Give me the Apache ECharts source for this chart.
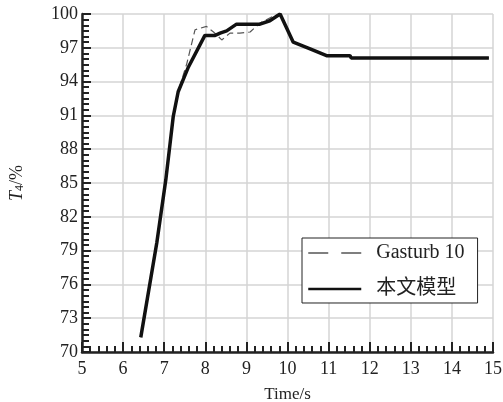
<!DOCTYPE html>
<html>
<head>
<meta charset="utf-8">
<script src="https://cdn.jsdelivr.net/npm/echarts@6/dist/echarts.min.js"></script>
<style>
  html, body { margin: 0; padding: 0; background: #fff; }
  #main { width: 503px; height: 402px; }
</style>
</head>
<body>
<div id="main"></div>
<script>
// Gasturb 10 (dashed)
const gasTime = [6.43, 6.82, 7.04, 7.22, 7.34, 7.55, 7.75, 8.03, 8.2, 8.4, 8.6, 8.84, 9.09, 9.33, 9.65, 9.82, 10.14, 10.55, 10.95, 11.52, 11.55, 14.9]
const gasT4 = [71.3, 79.7, 85.3, 90.9, 93.1, 95.6, 98.6, 98.9, 98.4, 97.7, 98.3, 98.3, 98.4, 99.2, 99.8, 100.0, 97.5, 96.9, 96.3, 96.3, 96.1, 96.1]

// 本文模型 (solid)
const modelTime = [6.43, 6.82, 7.04, 7.22, 7.34, 7.59, 7.99, 8.24, 8.36, 8.52, 8.76, 9.09, 9.33, 9.57, 9.82, 10.14, 10.55, 10.95, 11.52, 11.55, 14.9]
const modelT4 = [71.3, 79.7, 85.3, 90.9, 93.1, 95.3, 98.1, 98.1, 98.3, 98.5, 99.1, 99.1, 99.1, 99.4, 100.0, 97.5, 96.9, 96.3, 96.3, 96.1, 96.1]

const seriesNames = ['Gasturb 10', '本文模型']

const font = '"Liberation Serif", "Noto Sans CJK SC", serif'

const chart = echarts.init(document.getElementById('main'), null, { renderer: 'canvas' })

const option = {
  animation: false,
  textStyle: { fontFamily: font },
  grid: { left: 82, right: 10, top: 14, bottom: 50, outerBoundsMode: 'none' },
  legend: {
    orient: 'vertical',
    left: 302,
    top: 238,
    padding: [5, 13, 4, 5],
    itemGap: 16,
    itemWidth: 53,
    itemHeight: 20,
    borderColor: '#222',
    borderWidth: 1,
    backgroundColor: '#fff',
    itemStyle: { opacity: 0 },
    textStyle: { fontFamily: font, fontSize: 20, color: '#222', padding: [0, 0, 0, 10] },
    data: [
      { name: seriesNames[0], lineStyle: { width: 1.5, type: [20, 13], color: '#555' } },
      { name: seriesNames[1], lineStyle: { width: 2.5, color: '#111' } }
    ]
  },
  xAxis: {
    type: 'value',
    min: 5,
    max: 15,
    interval: 1,
    name: 'Time/s',
    nameLocation: 'middle',
    nameGap: 34,
    nameTextStyle: { fontFamily: font, fontSize: 17, color: '#222' },
    axisLine: { lineStyle: { color: '#222', width: 2.5 } },
    axisTick: { inside: true, length: 10, lineStyle: { color: '#222', width: 2 } },
    minorTick: { show: true, splitNumber: 5, length: 6, lineStyle: { color: '#222', width: 2 } },
    axisLabel: { fontFamily: font, fontSize: 18, color: '#222', margin: 8 },
    splitLine: { show: true, lineStyle: { color: '#d4d4d4', width: 1.5 } }
  },
  yAxis: {
    type: 'value',
    min: 70,
    max: 100,
    interval: 3,
    name: '{i|T}{s|4}{n|/%}',
    nameLocation: 'middle',
    nameRotate: 90,
    nameGap: 56,
    nameTextStyle: {
      fontFamily: font,
      color: '#222',
      rich: {
        i: { fontFamily: font, fontStyle: 'italic', fontSize: 18, color: '#222' },
        s: { fontFamily: font, fontSize: 12, color: '#222', verticalAlign: 'bottom', padding: [6, 0, 0, 0] },
        n: { fontFamily: font, fontSize: 18, color: '#222' }
      }
    },
    axisLine: { show: true, lineStyle: { color: '#222', width: 2.5 } },
    axisTick: { inside: true, length: 9, lineStyle: { color: '#222', width: 2 } },
    minorTick: { show: true, splitNumber: 6, length: 7, lineStyle: { color: '#222', width: 2 } },
    axisLabel: { fontFamily: font, fontSize: 18, color: '#222', margin: 4 },
    splitLine: { show: true, lineStyle: { color: '#d4d4d4', width: 1.5 } }
  },
  series: [
    {
      name: seriesNames[0],
      type: 'line',
      symbol: 'none',
      data: gasTime.map((t, i) => [t, gasT4[i]]),
      lineStyle: { color: '#555', width: 1.2, type: [7, 4] },
      itemStyle: { color: '#555' }
    },
    {
      name: seriesNames[1],
      type: 'line',
      symbol: 'none',
      data: modelTime.map((t, i) => [t, modelT4[i]]),
      lineStyle: { color: '#111', width: 3.5 },
      itemStyle: { color: '#111' }
    }
  ]
}

chart.setOption(option)
</script>
</body>
</html>
